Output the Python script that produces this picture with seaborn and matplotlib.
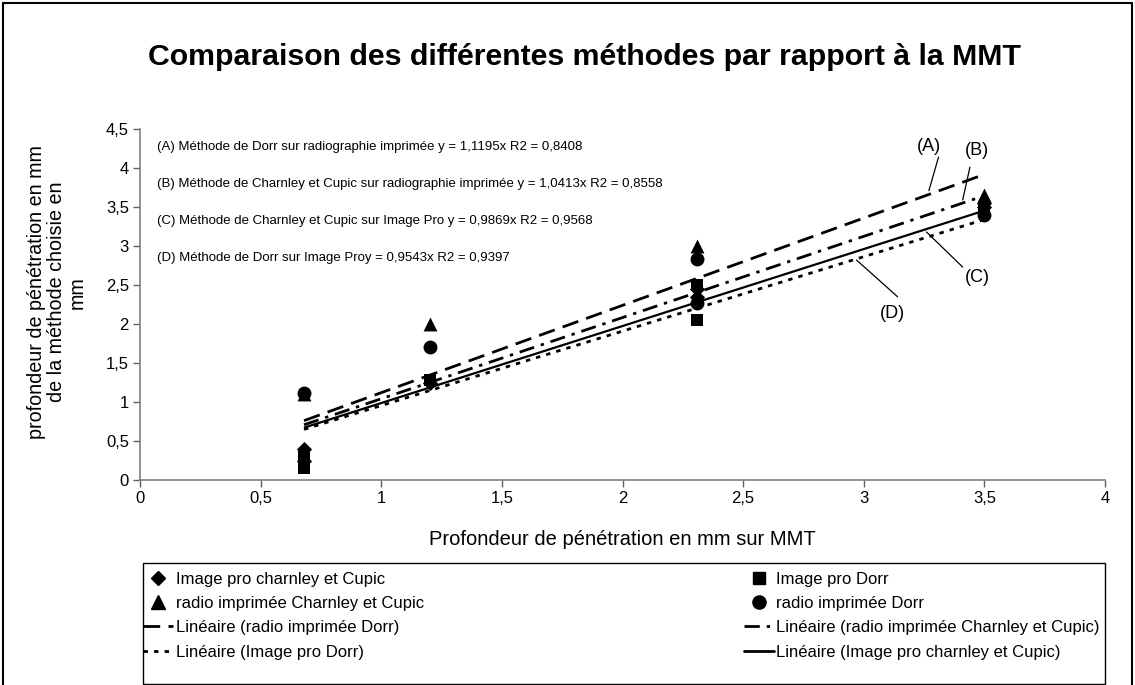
import matplotlib
matplotlib.use("Agg")
import matplotlib.pyplot as plt
import matplotlib.patches as mpatches
from matplotlib.lines import Line2D
from matplotlib.ticker import FuncFormatter, MultipleLocator
import numpy as np
import pandas as pd
import seaborn as sns

# --- data ---
series_names = [
    "Image pro charnley et Cupic",
    "Image pro Dorr",
    "radio imprimée Charnley et Cupic",
    "radio imprimée Dorr",
]
ipcc_x = [0.68, 0.68, 1.2, 2.31, 2.31, 3.5, 3.5]
ipcc_y = [0.4, 0.25, 1.25, 2.45, 2.35, 3.55, 3.5]
ipd_x = [0.68, 0.68, 1.2, 2.31, 2.31, 3.5]
ipd_y = [0.15, 0.3, 1.28, 2.05, 2.5, 3.45]
rcc_x = [0.68, 1.2, 2.31, 3.5]
rcc_y = [1.1, 2.0, 3.0, 3.66]
rd_x = [0.68, 1.2, 2.31, 2.31, 3.5]
rd_y = [1.12, 1.7, 2.83, 2.27, 3.4]

# fitted slopes (through origin), from the equations on the chart
slope_labels = ["(A)", "(B)", "(C)", "(D)"]
slope_series = ["radio imprimée Dorr", "radio imprimée Charnley et Cupic",
                "Image pro charnley et Cupic", "Image pro Dorr"]
slopes = [1.1195, 1.0413, 0.9869, 0.9543]
equations = [
    "(A) Méthode de Dorr sur radiographie imprimée y = 1,1195x R2 = 0,8408",
    "(B) Méthode de Charnley et Cupic sur radiographie imprimée y = 1,0413x R2 = 0,8558",
    "(C) Méthode de Charnley et Cupic sur Image Pro y = 0,9869x R2 = 0,9568",
    "(D) Méthode de Dorr sur Image Proy = 0,9543x R2 = 0,9397",
]

xs = {series_names[0]: ipcc_x, series_names[1]: ipd_x,
      series_names[2]: rcc_x, series_names[3]: rd_x}
ys = {series_names[0]: ipcc_y, series_names[1]: ipd_y,
      series_names[2]: rcc_y, series_names[3]: rd_y}

df = pd.concat(
    [pd.DataFrame({"x": xs[n], "y": ys[n], "serie": n}) for n in series_names],
    ignore_index=True,
)

markers = {series_names[0]: "D", series_names[1]: "s",
           series_names[2]: "^", series_names[3]: "o"}
msizes = {"D": 60, "s": 80, "^": 100, "o": 100}
line_dashes = {
    "(A)": (6, 3),
    "(B)": (5.5, 2.5, 1.2, 2.5),
    "(C)": None,
    "(D)": (1.6, 2.2),
}

sns.set_style("white")
plt.rcParams["font.family"] = ["Liberation Sans", "DejaVu Sans"]
plt.rcParams["text.color"] = "black"
plt.rcParams["axes.labelcolor"] = "black"
plt.rcParams["xtick.color"] = "black"
plt.rcParams["ytick.color"] = "black"

W, H = 1135, 685
fig = plt.figure(figsize=(W / 100, H / 100), dpi=100)
ax = fig.add_axes([140 / W, 1 - 480 / H, 965 / W, 351 / H])

for name in series_names:
    sub = df[df["serie"] == name]
    m = markers[name]
    sns.scatterplot(data=sub, x="x", y="y", marker=m, s=msizes[m], color="black",
                    edgecolor="black", linewidth=0, ax=ax, legend=False, zorder=3)

for lab, name, a in zip(slope_labels, slope_series, slopes):
    xr = np.array([min(xs[name]), max(xs[name])])
    ln, = ax.plot(xr, a * xr, color="black", lw=2.0 if lab != "(C)" else 1.6,
                  solid_capstyle="butt", zorder=2)
    if line_dashes[lab] is not None:
        ln.set_dashes(line_dashes[lab])
        ln.set_dash_capstyle("butt")

ax.set_xlim(0, 4)
ax.set_ylim(0, 4.5)
ax.xaxis.set_major_locator(MultipleLocator(0.5))
ax.yaxis.set_major_locator(MultipleLocator(0.5))
fmt = FuncFormatter(lambda v, p: f"{v:g}".replace(".", ","))
ax.xaxis.set_major_formatter(fmt)
ax.yaxis.set_major_formatter(fmt)
ax.tick_params(axis="both", which="major", direction="out", length=5, width=1,
               color="#606060", labelsize=12, pad=3, bottom=True, left=True)
for side in ["top", "right"]:
    ax.spines[side].set_visible(False)
for side in ["left", "bottom"]:
    ax.spines[side].set_color("#808080")
    ax.spines[side].set_linewidth(1.2)

ax.set_xlabel("Profondeur de pénétration en mm sur MMT", fontsize=14.5, labelpad=17)
ax.set_ylabel("profondeur de pénétration en mm\nde la méthode choisie en\nmm",
              fontsize=14.2, linespacing=1.1)
ax.yaxis.set_label_coords(-53 / 965, 0.535)

fig.text(585 / W, 1 - 57 / H, "Comparaison des différentes méthodes par rapport à la MMT",
         ha="center", va="center", fontsize=21.8, fontweight="bold")

for i, txt in enumerate(equations):
    ax.text(0.07, 4.27 - 0.475 * i, txt, fontsize=9.5, ha="left", va="center")

# labels (A)-(D) with leader lines
label_pos = {"(A)": (3.27, 4.28), "(B)": (3.47, 4.23),
             "(C)": (3.47, 2.60), "(D)": (3.12, 2.14)}
leaders = {"(A)": ((3.31, 4.14), (3.27, 3.71)),
           "(B)": ((3.44, 4.01), (3.41, 3.59)),
           "(C)": ((3.41, 2.73), (3.26, 3.18)),
           "(D)": ((3.14, 2.35), (2.97, 2.82))}
for lab in slope_labels:
    ax.text(*label_pos[lab], lab, fontsize=13, ha="center", va="center")
    (x0, y0), (x1, y1) = leaders[lab]
    ax.plot([x0, x1], [y0, y1], color="black", lw=0.9, zorder=4)

# legend
def mk(m, s):
    return Line2D([], [], color="black", marker=m, linestyle="none",
                  markersize=np.sqrt(s) * 0.95)

def ln_h(lab):
    h = Line2D([], [], color="black", lw=2.0)
    if line_dashes[lab] is not None:
        h.set_dashes(line_dashes[lab])
    return h

handles = [mk("D", 60), mk("^", 100), ln_h("(A)"), ln_h("(D)"),
           mk("s", 80), mk("o", 100), ln_h("(B)"), ln_h("(C)")]
labels = ["Image pro charnley et Cupic", "radio imprimée Charnley et Cupic",
          "Linéaire (radio imprimée Dorr)", "Linéaire (Image pro Dorr)",
          "Image pro Dorr", "radio imprimée Dorr",
          "Linéaire (radio imprimée Charnley et Cupic)",
          "Linéaire (Image pro charnley et Cupic)"]
leg = fig.legend(handles, labels, loc="upper left",
                 bbox_to_anchor=(143 / W, 0, 957 / W, 1 - 572 / H),
                 mode="expand", ncol=2, frameon=False, fontsize=12,
                 handlelength=1.8, handletextpad=0.15, labelspacing=0.55,
                 borderpad=0.0, borderaxespad=0)

# legend frame drawn separately (reaches the bottom edge)
fig.add_artist(mpatches.Rectangle((143 / W, 1 / H), 962 / W, 121 / H,
                                  transform=fig.transFigure, fill=False,
                                  edgecolor="black", lw=1.0))
# outer chart frame
fig.add_artist(mpatches.Rectangle((3 / W, -0.05), 1129 / W, 1 - 3 / H + 0.05,
                                  transform=fig.transFigure, fill=False,
                                  edgecolor="black", lw=1.5))

fig.savefig("out.png", dpi=100)
plt.close(fig)
